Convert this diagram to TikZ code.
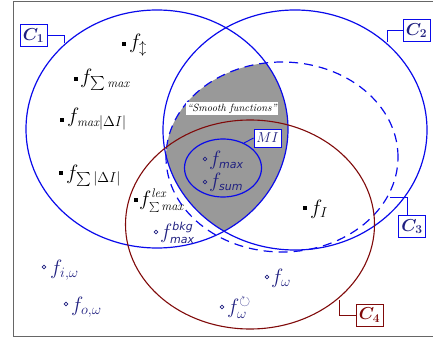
\documentclass[tikz,border=0pt]{standalone}
\usepackage{amsmath,amssymb}
\usepackage{fontspec}
\setsansfont{DejaVu Sans}
\definecolor{setB}{RGB}{10,10,235}
\definecolor{setR}{RGB}{128,10,10}
\definecolor{txtN}{RGB}{32,32,128}
\definecolor{lens}{RGB}{153,153,153}
\newcommand{\sfsub}[1]{\text{\fontsize{11}{12}\selectfont\sffamily\itshape #1}}
\newcommand{\rmsub}[1]{\text{\fontsize{12.5}{13}\selectfont\itshape #1}}

\begin{document}
\begin{tikzpicture}[x=1pt,y=-1pt,
  ring/.style={line width=1.2pt},
  sq/.style={fill=black,inner sep=0pt,minimum size=4pt},
  dot/.style={circle,draw=txtN,line width=0.7pt,inner sep=0pt,minimum size=3.6pt},
  ftxt/.style={anchor=base west,inner sep=0pt,font=\fontsize{20}{24}\selectfont},
  setlab/.style={draw,fill=white,line width=0.9pt,minimum width=27pt,minimum height=22pt,inner sep=0pt,font=\fontsize{17}{20}\selectfont\boldmath},
  pin/.style={line width=0.9pt}]
\useasboundingbox (0,0) rectangle (433,339);
\draw[black!60,line width=1pt] (433,2)--(13,2)--(13,336)--(433,336);
% shaded part: inside C1, C2 and C3
\begin{scope}
\clip (157,129) ellipse [x radius=131pt,y radius=119pt];
\clip (295,130) ellipse [x radius=132pt,y radius=120pt];
\fill[lens] (282,157) ellipse [x radius=116pt,y radius=95pt];
\end{scope}
\draw[ring,setB] (157,129) ellipse [x radius=131pt,y radius=119pt];
\draw[ring,setB] (295,130) ellipse [x radius=132pt,y radius=120pt];
\draw[ring,setB,dash pattern=on 9pt off 6pt] (282,157) ellipse [x radius=116pt,y radius=95pt];
\draw[line width=1.1pt,setR] (250,224.5) ellipse [x radius=124.5pt,y radius=104.5pt];
\draw[ring,setB] (223,168) ellipse [x radius=38.5pt,y radius=29pt];
% set labels
\node[fill=white,inner sep=1.5pt,font=\fontsize{10.5}{12}\selectfont\itshape] (smooth) at (232,108.5) {``Smooth functions''};
\node[setlab,draw=setB,text=txtN] (c1lab) at (33.5,35.5) {$C_1$};
\node[setlab,draw=setB,text=txtN] (c2lab) at (416.5,30.5) {$C_2$};
\node[setlab,draw=setB,text=txtN] (c3lab) at (412,226.5) {$C_3$};
\node[setlab,draw=setR,text=setR] (c4lab) at (369.5,315) {$C_4$};
\node[draw=setB,fill=white,line width=0.9pt,minimum width=27pt,minimum height=18pt,inner sep=0pt,text=txtN,font=\fontsize{15}{18}\selectfont] (milab) at (267.5,138) {$MI$};
\coordinate (c1pin) at (64,43);
\coordinate (c2pin) at (387,42);
\coordinate (c3pin) at (390,197);
\coordinate (c4pin) at (339,300);
\coordinate (mipin) at (244,143);
\draw[pin,setB] (c1lab.east) -| (c1pin);
\draw[pin,setB] (c2lab.west) -| (c2pin);
\draw[pin,setB] ([xshift=-5pt]c3lab.north) |- (c3pin);
\draw[pin,setR] (c4lab.west) -| (c4pin);
\draw[pin,setB] (milab.west) -- (mipin);
% black members
\node[sq] (pud) at (124,44) {};
\node[ftxt] (fud) at (129,49) {$f_{\updownarrow}$};
\node[sq] (psm) at (76,79) {};
\node[ftxt] (fsm) at (80,84) {$f_{\sum\rmsub{max}}$};
\node[sq] (pmd) at (62,120) {};
\node[ftxt] (fmd) at (67,123) {$f_{\rmsub{max}|\Delta I|}$};
\node[sq] (psd) at (61,173) {};
\node[ftxt] (fsd) at (66,179) {$f_{\sum|\Delta I|}$};
\node[sq] (plex) at (136,200) {};
\node[ftxt] (flex) at (139,205) {$f^{\rmsub{lex}}_{\scriptscriptstyle\sum\rmsub{max}}$};
\node[sq] (pI) at (305,208) {};
\node[ftxt] (fI) at (310,214) {$f_I$};
% blue members
\node[dot] (pbkg) at (156,232) {};
\node[ftxt,text=txtN] (fbkg) at (160,238) {$f^{\sfsub{bkg}}_{\sfsub{max}}$};
\node[dot] (pmax) at (205,159) {};
\node[ftxt,text=txtN] (fmax) at (209,165) {$f_{\sfsub{max}}$};
\node[dot] (psum) at (205,182) {};
\node[ftxt,text=txtN] (fsum) at (209,187) {$f_{\sfsub{sum}}$};
\node[dot] (piw) at (44,267) {};
\node[ftxt,text=txtN] (fiw) at (50,274) {$f_{i,\omega}$};
\node[dot] (pow) at (66,304) {};
\node[ftxt,text=txtN] (fow) at (71,311) {$f_{o,\omega}$};
\node[dot] (pw) at (267,277) {};
\node[ftxt,text=txtN] (fw) at (271,283) {$f_{\omega}$};
\node[dot] (pcw) at (222,307) {};
\node[ftxt,text=txtN] (fcw) at (227,313) {$f^{\circlearrowright}_{\omega}$};
\end{tikzpicture}
\end{document}
